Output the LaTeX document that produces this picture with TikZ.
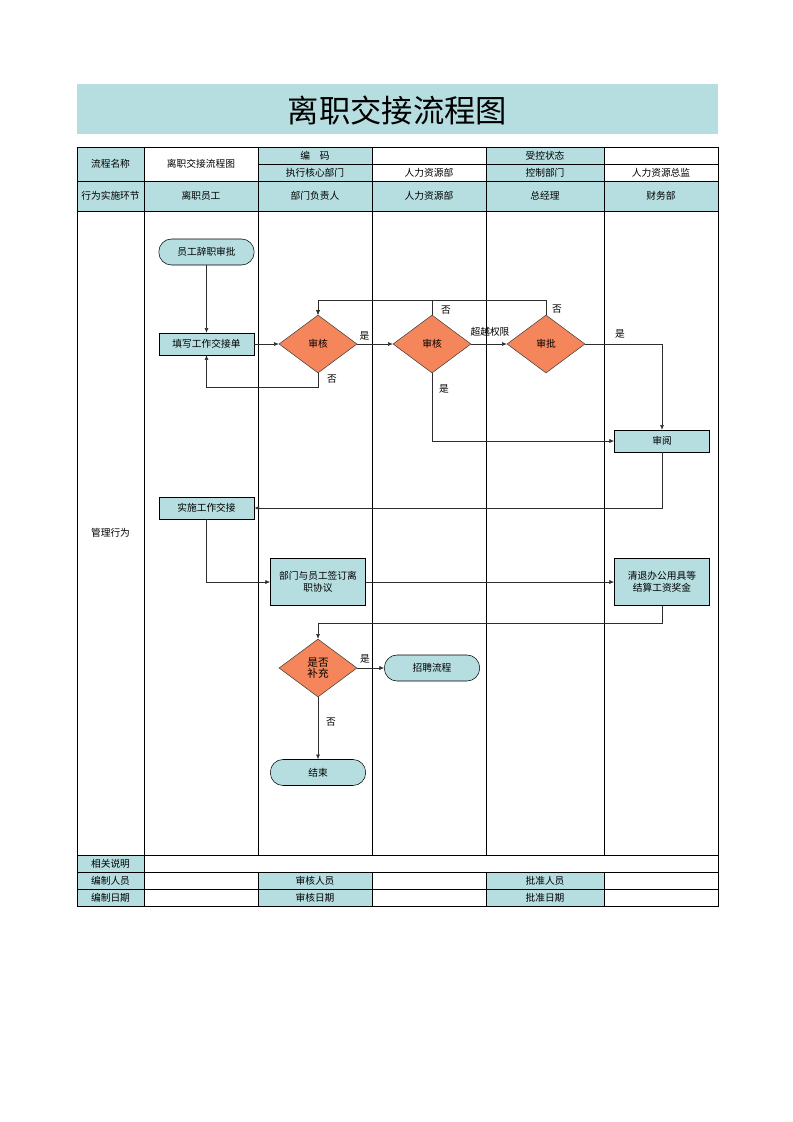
\documentclass[tikz,border=0pt]{standalone}
\usepackage{fontspec}
\setmainfont{Noto Sans CJK SC}
\usetikzlibrary{shapes.geometric,arrows.meta}
\definecolor{teal0}{RGB}{182,222,224}
\definecolor{orange0}{RGB}{245,133,90}
\definecolor{line0}{RGB}{45,45,45}
\begin{document}
\begin{tikzpicture}[x=0.75pt,y=-0.75pt,
    font=\fontsize{7.3}{9}\selectfont,
    proc/.style={draw=black,fill=teal0,minimum width=71.5pt,minimum height=16.5pt,inner sep=1pt,align=center},
    bigproc/.style={proc,minimum height=35.25pt},
    term/.style={proc,rounded corners=9.5pt,minimum height=19.5pt},
    decide/.style={diamond,draw=black!75,fill=orange0,minimum width=58.5pt,minimum height=43.5pt,inner sep=0pt,align=center},
    flow/.style={draw=line0,-{Latex[length=3.5pt,width=3pt]}},
    tag/.style={inner sep=1pt}]
  \useasboundingbox (0,0) rectangle (793,1122);

  % title band
  \fill[teal0] (77,84) rectangle (718,134);
  \node (title) at (397.5,110) {\fontsize{23.5}{27}\selectfont 离职交接流程图};

  % header table
  \fill[teal0] (77,147) rectangle (144,181);
  \fill[teal0] (258,147) rectangle (372,181);
  \fill[teal0] (486,147) rectangle (604,181);
  \fill[teal0] (77,181) rectangle (718,211);
  \fill[teal0] (77,855) rectangle (144,906);
  \fill[teal0] (258,872) rectangle (372,906);
  \fill[teal0] (486,872) rectangle (604,906);
  \draw (77,147) rectangle (718,906);
  \draw (258,164) -- (718,164);
  \draw (77,181) -- (718,181);
  \draw (77,211) -- (718,211);
  \draw (77,855) -- (718,855);
  \draw (77,872) -- (718,872);
  \draw (77,889) -- (718,889);
  \draw (144,147) -- (144,906);
  \foreach \x in {258,372,486,604} {
    \draw (\x,147) -- (\x,855);
    \draw (\x,872) -- (\x,906);
  }

  \node (name) at (110.5,164) {流程名称};
  \node (namev) at (201,164) {离职交接流程图};
  \node (code) at (315,155.5) {编\quad 码};
  \node (ctrl) at (545,155.5) {受控状态};
  \node (dept) at (315,172.5) {执行核心部门};
  \node (deptv) at (429,172.5) {人力资源部};
  \node (cdept) at (545,172.5) {控制部门};
  \node (cdeptv) at (661,172.5) {人力资源总监};
  \foreach \x/\t [count=\i] in {110.5/行为实施环节,201/离职员工,315/部门负责人,
      429/人力资源部,545/总经理,661/财务部}
    \node (lane\i) at (\x,196) {\t};
  \node (act) at (110.5,533) {管理行为};
  \node (note) at (110.5,863.5) {相关说明};
  \node (mk) at (110.5,880.5) {编制人员};
  \node (rv) at (315,880.5) {审核人员};
  \node (ap) at (545,880.5) {批准人员};
  \node (mkd) at (110.5,897.5) {编制日期};
  \node (rvd) at (315,897.5) {审核日期};
  \node (apd) at (545,897.5) {批准日期};

  % flow nodes
  \node[term] (start) at (206.5,252) {员工辞职审批};
  \node[proc] (fill) at (206.5,344) {填写工作交接单};
  \node[decide] (chk1) at (318,344) {审核};
  \node[decide] (chk2) at (432,344) {审核};
  \node[decide] (appr) at (546,344) {审批};
  \node[proc] (review) at (662,441) {审阅};
  \node[proc] (handover) at (206.5,508) {实施工作交接};
  \node[bigproc] (sign) at (318,582) {部门与员工签订离\\职协议};
  \node[bigproc] (settle) at (662,582) {清退办公用具等\\结算工资奖金};
  \node[decide,font=\fontsize{8}{7}\selectfont] (more) at (318,668) {是否\\补充};
  \node[term] (hire) at (432,668) {招聘流程};
  \node[term] (end) at (318,772.5) {结束};

  % connectors
  \draw[flow] (start) -- (fill);
  \draw[flow] (fill) -- (chk1);
  \draw[flow] (chk1.south) -- ++(0,14) -| (fill.south);
  \draw[flow] (chk1) -- (chk2);
  \draw[flow] (chk2.north) -- ++(0,-14) -| (chk1.north);
  \draw[flow] (appr.north) -- ++(0,-14) -| (chk1.north);
  \draw[flow] (chk2) -- (appr);
  \draw[flow] (chk2.south) |- (review.west);
  \draw[flow] (appr.east) -| (review.north);
  \draw[flow] (review.south) |- (handover.east);
  \draw[flow] (handover.south) |- (sign.west);
  \draw[flow] (sign) -- (settle);
  \draw[flow] (settle.south) -- ++(0,17) -| (more.north);
  \draw[flow] (more) -- (hire);
  \draw[flow] (more) -- (end);

  % labels
  \node[tag] (no1) at (332,379) {否};
  \node[tag] (yes1) at (364.5,336) {是};
  \node[tag] (no2) at (446,310) {否};
  \node[tag] (no3) at (557,309) {否};
  \node[tag] (over) at (490,332) {超越权限};
  \node[tag] (yes2) at (444,389) {是};
  \node[tag] (yes3) at (620,334) {是};
  \node[tag] (yes4) at (365,659) {是};
  \node[tag] (no4) at (331,722) {否};
\end{tikzpicture}
\end{document}
